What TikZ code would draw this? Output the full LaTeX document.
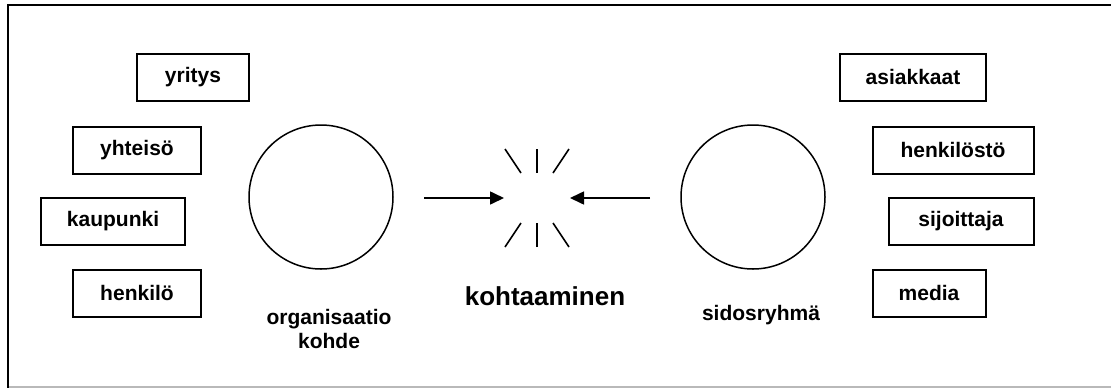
\documentclass[tikz,border=0pt]{standalone}
\usepackage{fontspec}
\setmainfont{Liberation Sans}
\usetikzlibrary{arrows.meta, positioning}

\tikzset{
  groupbox/.style={draw, line width=2pt, minimum height=47pt, inner sep=0pt, font=\fontsize{21}{24}\selectfont\bfseries},
  party/.style={draw, circle, line width=1.5pt, minimum size=144pt, inner sep=0pt},
  caption/.style={align=center, font=\fontsize{21}{24}\selectfont\bfseries},
  spark/.style={line width=1.6pt},
  meetarrow/.style={line width=1.6pt, -{Triangle[length=14pt, width=13pt]}}
}

\begin{document}
\begin{tikzpicture}[x=1pt, y=-1pt]
  \useasboundingbox (0, 0) rectangle (1111, 389);

  % frame (open on the right)
  \draw[gray!55, line width=1.2pt] (8, 387) -- (1111, 387);
  \draw[line width=1.8pt] (1111, 5) -- (8, 5) -- (8, 388);

  % organisation side
  \node[groupbox, minimum width=112pt] (yritys) at (193, 77) {yritys};
  \node[groupbox, minimum width=128pt] (yhteiso) at (137, 150) {yhteisö};
  \node[groupbox, minimum width=144pt] (kaupunki) at (113, 221) {kaupunki};
  \node[groupbox, minimum width=128pt] (henkilo) at (137, 293) {henkilö};

  \node[party] (org) at (321, 197) {};
  \node[caption] (orglabel) at (329, 329) {organisaatio\\kohde};

  % stakeholder side
  \node[groupbox, minimum width=146pt] (asiakkaat) at (913, 77) {asiakkaat};
  \node[groupbox, minimum width=161pt] (henkilosto) at (953, 150) {henkilöstö};
  \node[groupbox, minimum width=145pt] (sijoittaja) at (961, 221) {sijoittaja};
  \node[groupbox, minimum width=113pt] (media) at (929, 293) {media};

  \node[party] (sidos) at (753, 197) {};
  \node[caption] (sidoslabel) at (761, 315) {sidosryhmä};

  % meeting point
  \coordinate (meet) at (537, 198);
  \coordinate (fromorg) at (424, 198);
  \coordinate (fromsidos) at (650, 198);
  \draw[meetarrow] (fromorg) -- ([xshift=-33pt]meet);
  \draw[meetarrow] (fromsidos) -- ([xshift=33pt]meet);

  % sparks around the meeting point
  \draw[spark] ([yshift=-49pt]meet) -- ([yshift=-25pt]meet);
  \draw[spark] ([yshift=49pt]meet) -- ([yshift=25pt]meet);
  \draw[spark] ([shift={(-32pt,-49pt)}]meet) -- ([shift={(-16pt,-25pt)}]meet);
  \draw[spark] ([shift={(32pt,-49pt)}]meet) -- ([shift={(16pt,-25pt)}]meet);
  \draw[spark] ([shift={(-32pt,49pt)}]meet) -- ([shift={(-16pt,25pt)}]meet);
  \draw[spark] ([shift={(32pt,49pt)}]meet) -- ([shift={(16pt,25pt)}]meet);

  \node[caption, font=\fontsize{26}{30}\selectfont\bfseries] (meetlabel) at (545, 296) {kohtaaminen};
\end{tikzpicture}
\end{document}
